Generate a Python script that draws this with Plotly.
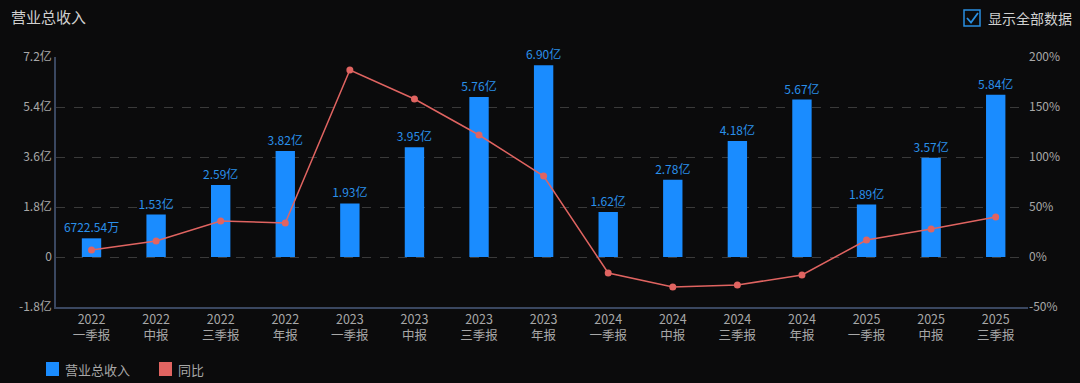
import plotly.graph_objects as go

categories = ["2022<br>一季报", "2022<br>中报", "2022<br>三季报", "2022<br>年报",
              "2023<br>一季报", "2023<br>中报", "2023<br>三季报", "2023<br>年报",
              "2024<br>一季报", "2024<br>中报", "2024<br>三季报", "2024<br>年报",
              "2025<br>一季报", "2025<br>中报", "2025<br>三季报"]
revenue_yi = [0.672254, 1.53, 2.59, 3.82, 1.93, 3.95, 5.76, 6.90,
              1.62, 2.78, 4.18, 5.67, 1.89, 3.57, 5.84]
yoy_pct = [7, 16, 36, 34, 187, 158, 122, 81, -16, -30, -28, -18, 17, 28, 40]
left_ticks = [-1.8, 0, 1.8, 3.6, 5.4, 7.2]
left_tick_text = ["-1.8亿", "0", "1.8亿", "3.6亿", "5.4亿", "7.2亿"]
right_ticks = [-50, 0, 50, 100, 150, 200]
right_tick_text = ["-50%", "0%", "50%", "100%", "150%", "200%"]


def fmt(v):
    if v < 1:
        return f"{v * 10000:.2f}万"
    return f"{v:.2f}亿"


FONT = "Noto Sans CJK SC, Noto Sans, sans-serif"
BLUE = "#1a8cff"
RED = "#e06461"
BG = "#0b0b0c"

fig = go.Figure()
fig.add_trace(go.Bar(
    x=categories, y=revenue_yi, name="营业总收入",
    marker=dict(color=BLUE, line=dict(width=0)),
    width=0.3,
    text=[fmt(v) for v in revenue_yi], textposition="outside",
    constraintext="none",
    textfont=dict(color="#2a90ea", size=12, family=FONT),
    cliponaxis=False, showlegend=False, hoverinfo="skip",
))
fig.add_trace(go.Scatter(
    x=categories, y=yoy_pct, name="同比", yaxis="y2",
    mode="lines+markers",
    line=dict(color=RED, width=1.5),
    marker=dict(color=RED, size=7),
    cliponaxis=False, showlegend=False, hoverinfo="skip",
))

fig.update_layout(
    width=1080, height=383,
    margin=dict(l=56, r=52, t=57, b=76),
    paper_bgcolor=BG, plot_bgcolor=BG,
    font=dict(family=FONT, color="#a8a8a8", size=12),
    xaxis=dict(
        range=[-0.55, 14.5],
        showline=True, linecolor="#3a4760", linewidth=1.5,
        showgrid=False, ticks="", tickfont=dict(size=12.5, color="#a8a8a8"),
        fixedrange=True,
    ),
    yaxis=dict(
        range=[-1.8, 7.2], tickvals=left_ticks, ticktext=left_tick_text,
        showline=True, linecolor="#3a4760", linewidth=1.5,
        showgrid=True, gridcolor="#3a3a3a", griddash="dash", gridwidth=1,
        zeroline=False, ticks="", tickfont=dict(size=12, color="#a8a8a8"),
        fixedrange=True,
    ),
    yaxis2=dict(
        range=[-50, 200], tickvals=right_ticks, ticktext=right_tick_text,
        overlaying="y", side="right", showgrid=False, zeroline=False,
        showline=False, ticks="", tickfont=dict(size=12, color="#a8a8a8"),
        fixedrange=True,
    ),
    showlegend=False,
)


def px(xp):
    return (xp - 56) / 972


def py(yp):
    return (307 - yp) / 250


# Title
fig.add_annotation(text="营业总收入", xref="paper", yref="paper",
                   x=px(9), y=py(16), xanchor="left", yanchor="middle",
                   showarrow=False, font=dict(size=15, color="#d0d0d0", family=FONT))

# Checkbox (top-right)
fig.add_shape(type="rect", xref="paper", yref="paper",
              x0=px(964), x1=px(980), y0=py(26), y1=py(10),
              line=dict(color="#2a8fe0", width=1.5), fillcolor=BG)
fig.add_shape(type="path", xref="paper", yref="paper",
              path=f"M {px(967)},{py(18)} L {px(971)},{py(22.5)} L {px(978)},{py(13)}",
              line=dict(color="#2a8fe0", width=1.8))
fig.add_annotation(text="显示全部数据", xref="paper", yref="paper",
                   x=px(986), y=py(18), xanchor="left", yanchor="middle",
                   showarrow=False, font=dict(size=14, color="#d0d0d0", family=FONT))

# Legend (bottom-left)
fig.add_shape(type="rect", xref="paper", yref="paper",
              x0=px(46), x1=px(59), y0=py(376), y1=py(362),
              line=dict(width=0), fillcolor=BLUE)
fig.add_annotation(text="营业总收入", xref="paper", yref="paper",
                   x=px(63), y=py(369), xanchor="left", yanchor="middle",
                   showarrow=False, font=dict(size=13, color="#a8a8a8", family=FONT))
fig.add_shape(type="rect", xref="paper", yref="paper",
              x0=px(159), x1=px(172), y0=py(376), y1=py(362),
              line=dict(width=0), fillcolor=RED)
fig.add_annotation(text="同比", xref="paper", yref="paper",
                   x=px(176), y=py(369), xanchor="left", yanchor="middle",
                   showarrow=False, font=dict(size=13, color="#a8a8a8", family=FONT))

fig.write_html("out.html", config={"displayModeBar": False},
               post_script="document.body.style.margin='0';document.body.style.background='%s';" % BG)
